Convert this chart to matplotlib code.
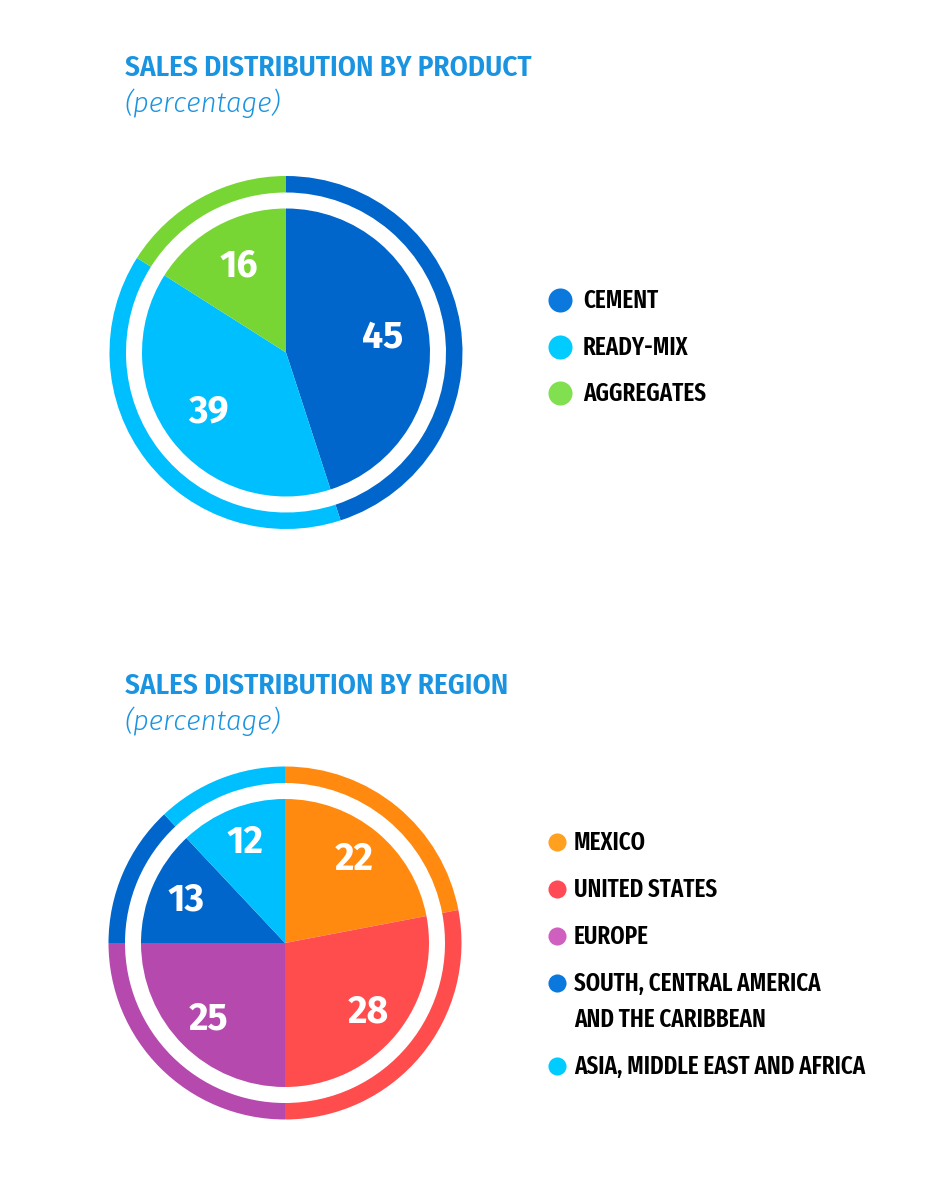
import matplotlib
matplotlib.use("Agg")
import matplotlib.pyplot as plt

# data
product_labels = ["CEMENT", "READY-MIX", "AGGREGATES"]
product_values = [45, 39, 16]
product_colors = ["#0066CC", "#00BFFF", "#77D633"]
product_dots = ["#0A78DC", "#00CCFF", "#80E050"]

region_labels = ["MEXICO", "UNITED STATES", "EUROPE",
                 "SOUTH, CENTRAL AMERICA\nAND THE CARIBBEAN",
                 "ASIA, MIDDLE EAST AND AFRICA"]
region_values = [22, 28, 25, 13, 12]
region_colors = ["#FF8A0F", "#FF4D4D", "#B649AE", "#0066CC", "#00BFFF"]
region_dots = ["#FFA020", "#FF4B55", "#D060C0", "#0A78DC", "#00CCFF"]

W, H = 950, 1200
TITLE_BLUE = "#1A94E0"
COND = "Fira Sans Extra Condensed"

fig = plt.figure(figsize=(W / 100, H / 100), dpi=100)
ax = fig.add_axes([0, 0, 1, 1])


def draw_block(ty, cx, cy, title, values, colors, pctdist, labels, dots,
               dot_x, dot_size, text_x, leg_y0, leg_step):
    # titles
    ax.text(125, H - ty, title, color=TITLE_BLUE, fontsize=21, family="Fira Sans Condensed",
            weight=600, va="baseline", ha="left")
    ax.text(124, H - ty - 36, "(percentage)", color=TITLE_BLUE, fontsize=20, style="italic",
            family="Fira Sans", weight=300, va="baseline", ha="left")
    # outer ring
    ax.pie(values, colors=colors, center=(cx, H - cy), radius=176.5, startangle=90,
           counterclock=False, wedgeprops=dict(width=16.5, linewidth=0))
    # inner pie
    ax.pie(values, colors=colors, center=(cx, H - cy), radius=144, startangle=90,
           counterclock=False, wedgeprops=dict(linewidth=0),
           autopct=lambda p: "%d" % round(p), pctdistance=pctdist,
           textprops=dict(color="white", fontsize=27, weight="bold", family="Fira Sans"))
    # legend
    y = leg_y0
    for lab, col in zip(labels, dots):
        ax.scatter([dot_x], [H - y], s=dot_size, color=col, linewidths=0, zorder=3)
        for line in lab.split("\n"):
            ax.text(text_x, H - y + 1.5, line, fontsize=18, color="black", family=COND,
                    weight=600, va="center_baseline", ha="left")
            y += 36
        y += leg_step - 36


draw_block(76, 286, 352.5, "SALES DISTRIBUTION BY PRODUCT", product_values, product_colors,
           0.68, product_labels, product_dots, 560, 300, 583, 300, 46.5)

draw_block(694, 285, 943, "SALES DISTRIBUTION BY REGION", region_values, region_colors,
           0.75, region_labels, region_dots, 557, 170, 574, 842, 47)

ax.set_xlim(0, W)
ax.set_ylim(0, H)
ax.set_aspect("equal")
ax.axis("off")

fig.savefig("out.png", dpi=100, facecolor="white")
